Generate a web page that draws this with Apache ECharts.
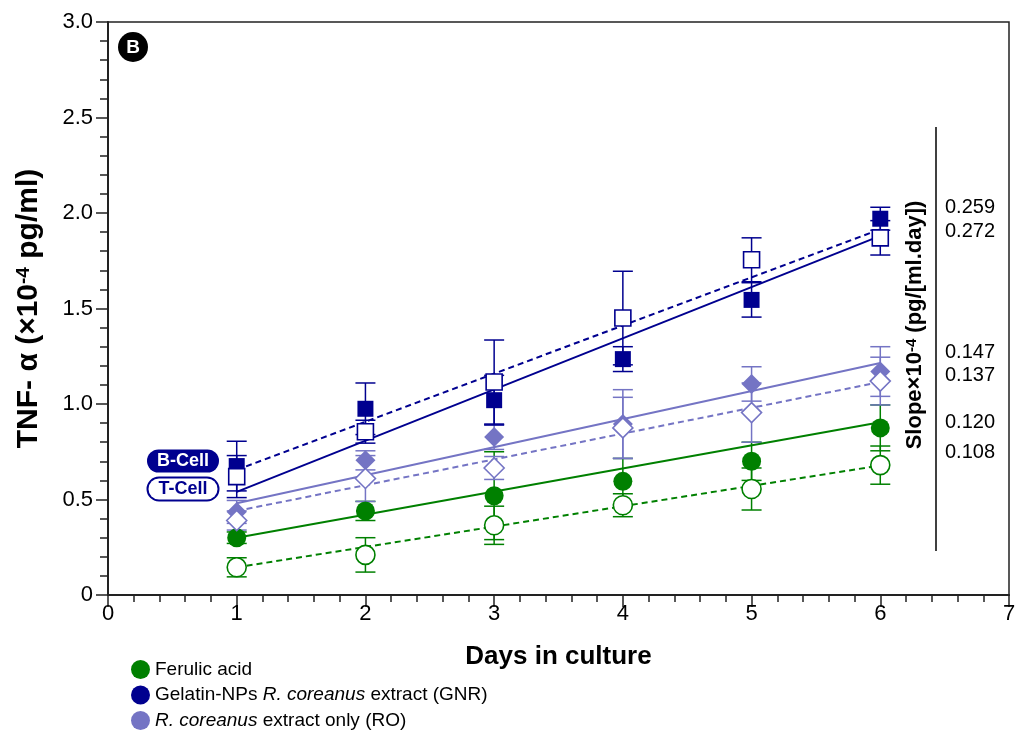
<!DOCTYPE html>
<html>
<head>
<meta charset="utf-8">
<script src="https://cdn.jsdelivr.net/npm/echarts@6/dist/echarts.min.js"></script>
<style>html,body{margin:0;padding:0;background:#fff}#c{width:1024px;height:737px}</style>
</head>
<body>
<div id="c"></div>
<script>
// ---- data ----
const days = [1, 2, 3, 4, 5, 6];
const xTicks = [0, 1, 2, 3, 4, 5, 6, 7];
const yTicks = [0, 0.5, 1.0, 1.5, 2.0, 2.5, 3.0];

const ferulicB = [0.30, 0.44, 0.52, 0.595, 0.70, 0.875];
const ferulicBErr = [0.03, 0.05, 0.23, 0.12, 0.10, 0.12];
const ferulicT = [0.145, 0.21, 0.365, 0.47, 0.555, 0.68];
const ferulicTErr = [0.05, 0.09, 0.10, 0.06, 0.11, 0.10];

const gnrB = [0.675, 0.975, 1.02, 1.235, 1.545, 1.97];
const gnrBErr = [0.13, 0.135, 0.13, 0.065, 0.09, 0.06];
const gnrT = [0.62, 0.855, 1.115, 1.45, 1.755, 1.87];
const gnrTErr = [0.11, 0.06, 0.22, 0.245, 0.115, 0.09];

const roB = [0.435, 0.705, 0.827, 0.895, 1.105, 1.17];
const roBErr = [0.06, 0.05, 0.065, 0.18, 0.09, 0.13];
const roT = [0.39, 0.61, 0.665, 0.875, 0.955, 1.12];
const roTErr = [0.05, 0.12, 0.06, 0.16, 0.155, 0.125];

// fitted lines: value at day 1 and day 6
const fitDays = [1, 6];
const fitFerulicSolid = [0.30, 0.905];
const fitFerulicDashed = [0.145, 0.678];
const fitGnrDashed = [0.655, 1.915];
const fitGnrSolid = [0.54, 1.88];
const fitRoSolid = [0.48, 1.215];
const fitRoDashed = [0.44, 1.115];

const slopeLabels = ['0.259', '0.272', '0.147', '0.137', '0.120', '0.108'];
const legendNames = ['Ferulic acid', 'Gelatin-NPs R. coreanus extract (GNR)', 'R. coreanus extract only (RO)'];

// ---- styles ----
const GREEN = '#008000';
const NAVY = '#00008f';
const LILAC = '#7474c4';
const FONT = '"Liberation Sans", Arial, Helvetica, sans-serif';

function pts(xs, ys) { return xs.map((x, i) => [x, ys[i]]); }
function errPts(vals, errs) { return days.map((d, i) => [d, vals[i], errs[i]]); }

function fitLine(name, ys, color, dashed) {
  return {
    type: 'line', name: name, data: pts(fitDays, ys), symbol: 'none', silent: true, z: 3,
    lineStyle: { color: color, width: 2, type: dashed ? [6, 4] : 'solid', opacity: 1 }
  };
}
function errSeries(name, vals, errs, color) {
  return {
    type: 'custom', name: name, data: errPts(vals, errs), z: 2, silent: true,
    encode: { x: 0, y: 1 },
    renderItem: function (params, api) {
      const x = api.value(0), y = api.value(1), e = api.value(2);
      const t = api.coord([x, y + e]), b = api.coord([x, y - e]);
      const hw = 10;
      const st = { stroke: color, lineWidth: 1.5, fill: null };
      return {
        type: 'group', children: [
          { type: 'line', shape: { x1: t[0], y1: t[1], x2: b[0], y2: b[1] }, style: st },
          { type: 'line', shape: { x1: t[0] - hw, y1: t[1], x2: t[0] + hw, y2: t[1] }, style: st },
          { type: 'line', shape: { x1: b[0] - hw, y1: b[1], x2: b[0] + hw, y2: b[1] }, style: st }
        ]
      };
    }
  };
}
function markSeries(name, vals, color, symbol, size, open) {
  return {
    type: 'scatter', name: name, data: pts(days, vals), symbol: symbol, symbolSize: size, z: 5,
    itemStyle: open ? { color: '#fff', borderColor: color, borderWidth: 1.6, opacity: 1 } : { color: color, borderColor: color, borderWidth: 0, opacity: 1 }
  };
}

const series = [
  fitLine('fit1', fitFerulicSolid, GREEN, false),
  fitLine('fit2', fitFerulicDashed, GREEN, true),
  fitLine('fit3', fitRoSolid, LILAC, false),
  fitLine('fit4', fitRoDashed, LILAC, true),
  fitLine('fit5', fitGnrSolid, NAVY, false),
  fitLine('fit6', fitGnrDashed, NAVY, true),
  errSeries('e1', ferulicB, ferulicBErr, GREEN),
  errSeries('e2', ferulicT, ferulicTErr, GREEN),
  errSeries('e3', roB, roBErr, LILAC),
  errSeries('e4', roT, roTErr, LILAC),
  errSeries('e5', gnrB, gnrBErr, NAVY),
  errSeries('e6', gnrT, gnrTErr, NAVY),
  markSeries(legendNames[0], ferulicB, GREEN, 'circle', 19, false),
  markSeries('Ferulic T', ferulicT, GREEN, 'circle', 19, true),
  markSeries(legendNames[2], roB, LILAC, 'diamond', 20, false),
  markSeries('RO T', roT, LILAC, 'diamond', 20, true),
  markSeries(legendNames[1], gnrB, NAVY, 'rect', 16, false),
  markSeries('GNR T', gnrT, NAVY, 'rect', 16, true)
];

const slopeY = [207, 231, 352, 375, 422, 452];
const graphics = [
  { type: 'circle', shape: { cx: 133, cy: 47, r: 15 }, style: { fill: '#000' }, z: 10 },
  { type: 'text', x: 133, y: 48, z: 11, style: { text: 'B', fill: '#fff', font: 'bold 19px ' + FONT, align: 'center', verticalAlign: 'middle' } },
  { type: 'text', x: 183, y: 461, z: 11, style: { text: 'B-Cell', fill: '#fff', font: 'bold 18px ' + FONT, align: 'center', verticalAlign: 'middle', backgroundColor: NAVY, borderRadius: 12, padding: [3, 10, 2, 10] } },
  { type: 'text', x: 183, y: 489, z: 11, style: { text: 'T-Cell', fill: NAVY, font: 'bold 18px ' + FONT, align: 'center', verticalAlign: 'middle', backgroundColor: '#fff', borderColor: NAVY, borderWidth: 2, borderRadius: 12, padding: [2, 10, 1, 10] } },
  { type: 'line', shape: { x1: 936, y1: 127, x2: 936, y2: 551 }, style: { stroke: '#000', lineWidth: 1.5 }, z: 10 },
  {
    type: 'text', x: 915, y: 325, rotation: Math.PI / 2, z: 11,
    style: {
      text: 'Slope×10{sup|-4} (pg/[ml.day])', fill: '#000', font: 'bold 22px ' + FONT, align: 'center', verticalAlign: 'middle',
      rich: { sup: { fontSize: 15, fontWeight: 'bold', fontFamily: FONT, verticalAlign: 'top', fill: '#000' } }
    }
  }
].concat(slopeLabels.map((s, i) => ({
  type: 'text', x: 945, y: slopeY[i], z: 11,
  style: { text: s, fill: '#000', font: '20px ' + FONT, align: 'left', verticalAlign: 'middle' }
})));

const chart = echarts.init(document.getElementById('c'), null, { renderer: 'canvas' });
chart.setOption({
  animation: false,
  backgroundColor: '#fff',
  textStyle: { fontFamily: FONT },
  grid: { left: 108, right: 15, top: 22, bottom: 142, show: true, borderColor: '#222', borderWidth: 1.5, backgroundColor: 'transparent' },
  xAxis: {
    type: 'value', min: xTicks[0], max: xTicks[xTicks.length - 1], interval: 1,
    name: 'Days in culture', nameLocation: 'middle', nameGap: 49,
    nameTextStyle: { fontSize: 26, fontWeight: 'bold', color: '#000', fontFamily: FONT },
    axisLine: { show: true, onZero: false, lineStyle: { color: '#222', width: 2 } },
    axisTick: { show: true, length: 12, lineStyle: { color: '#222', width: 1.5 } },
    minorTick: { show: true, splitNumber: 5, length: 7, lineStyle: { color: '#222', width: 1.5 } },
    splitLine: { show: false },
    axisLabel: { fontSize: 22, color: '#000', margin: 8, fontFamily: FONT }
  },
  yAxis: {
    type: 'value', min: yTicks[0], max: yTicks[yTicks.length - 1], interval: 0.5,
    name: 'TNF- α (×10{sup|-4} pg/ml)', nameLocation: 'middle', nameGap: 64,
    nameTextStyle: {
      fontSize: 30, fontWeight: 'bold', color: '#000', fontFamily: FONT,
      rich: { sup: { fontSize: 19, fontWeight: 'bold', color: '#000', fontFamily: FONT, verticalAlign: 'top' } }
    },
    axisLine: { show: true, onZero: false, lineStyle: { color: '#222', width: 2 } },
    axisTick: { show: true, length: 12, lineStyle: { color: '#222', width: 1.5 } },
    minorTick: { show: true, splitNumber: 5, length: 8, lineStyle: { color: '#222', width: 1.5 } },
    splitLine: { show: false },
    axisLabel: { fontSize: 22, color: '#000', margin: 15, fontFamily: FONT, formatter: v => v === 0 ? '0' : v.toFixed(1) }
  },
  legend: {
    orient: 'vertical', left: 126, top: 655, itemWidth: 19, itemHeight: 19, itemGap: 6.5, selectedMode: false,
    data: [
      { name: legendNames[0], icon: 'circle', itemStyle: { color: GREEN, opacity: 1 } },
      { name: legendNames[1], icon: 'circle', itemStyle: { color: NAVY, opacity: 1 } },
      { name: legendNames[2], icon: 'circle', itemStyle: { color: LILAC, opacity: 1 } }
    ],
    formatter: function (n) { return n.replace('R. coreanus', '{i|R. coreanus}'); },
    textStyle: { fontSize: 19, color: '#000', fontFamily: FONT, rich: { i: { fontSize: 19, fontStyle: 'italic', color: '#000', fontFamily: FONT } } }
  },
  graphic: graphics,
  series: series
});
</script>
</body>
</html>
